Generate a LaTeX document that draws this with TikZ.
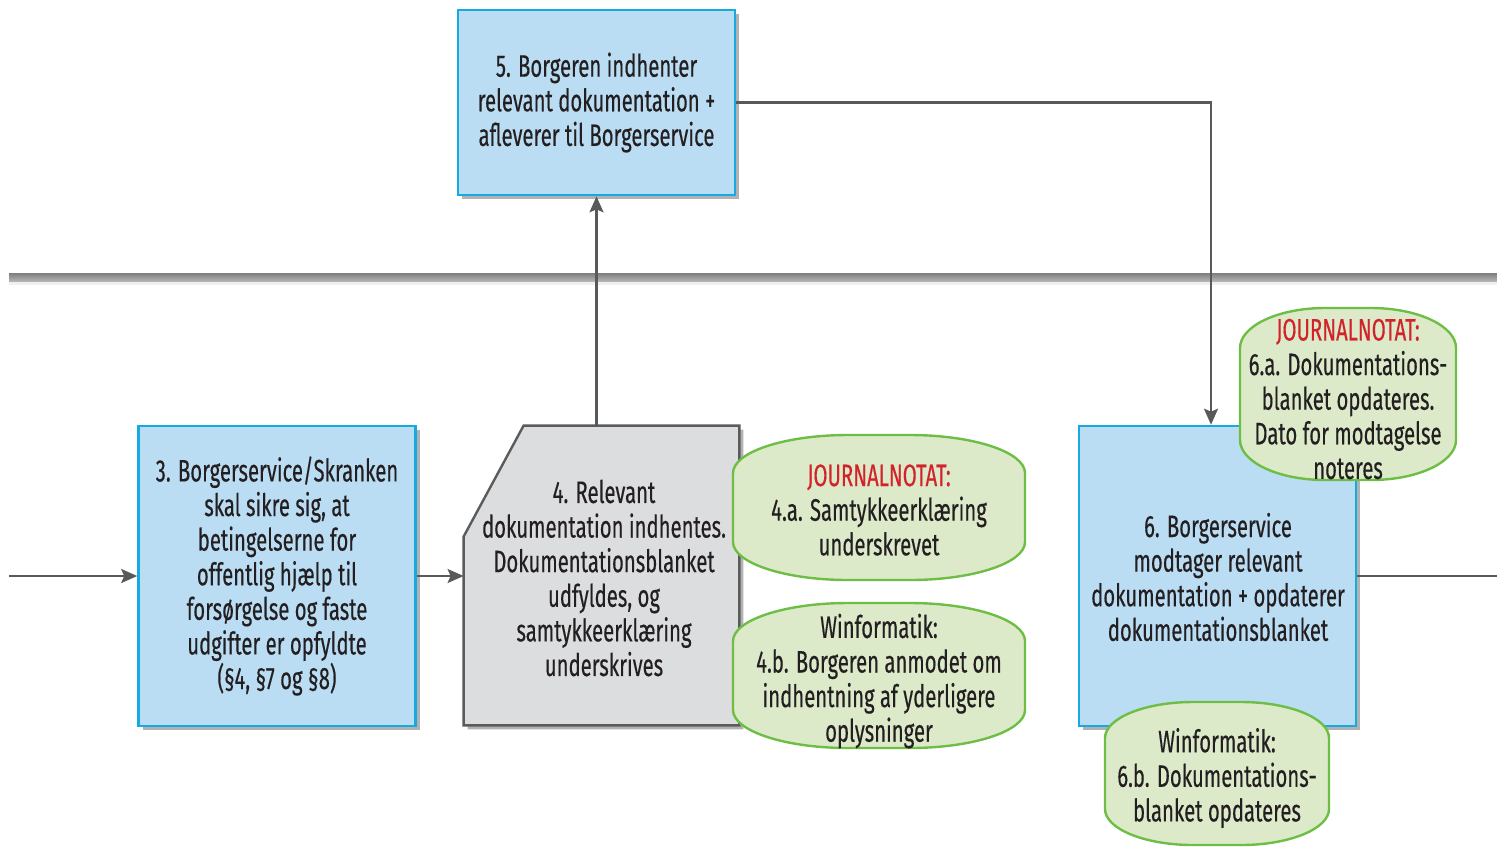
\documentclass[tikz,border=0pt]{standalone}
\usepackage{fontspec}
\setmainfont{Fira Sans}[FakeStretch=0.655, FakeBold=0.35]
\usetikzlibrary{arrows.meta,shadows}
\definecolor{boxblue}{RGB}{186,221,244}
\definecolor{edgeblue}{RGB}{22,170,226}
\definecolor{boxgray}{RGB}{220,221,223}
\definecolor{edgegray}{RGB}{90,91,93}
\definecolor{notegreen}{RGB}{220,234,202}
\definecolor{edgegreen}{RGB}{110,190,70}
\definecolor{notered}{RGB}{210,35,42}
\definecolor{ink}{RGB}{35,31,32}
\definecolor{linegray}{RGB}{88,89,91}
\tikzset{
  txt/.style={align=center, text=ink, inner sep=0pt, font=\fontsize{15.5}{17.3}\selectfont},
  boxshadow/.style={drop shadow={shadow xshift=2pt, shadow yshift=-2pt, opacity=0.3, fill=black}},
  procbox/.style={txt, draw=edgeblue, line width=1.3pt, fill=boxblue, minimum width=138.5pt, minimum height=150pt, boxshadow},
  docbox/.style={fill=boxgray, draw=edgegray, line width=1.2pt, boxshadow},
  notebox/.style={fill=notegreen, draw=edgegreen, line width=1.2pt},
  flow/.style={draw=linegray, line width=1.1pt, -{Stealth[length=8pt, width=7pt, inset=1.5pt]}},
  plain/.style={draw=linegray, line width=1.1pt},
}
% rounded "barrel" outline: left, top, right, bottom, corner height, corner width
\newcommand{\barrel}[6]{%
  \filldraw[notebox] (#1,#2+#5) .. controls (#1,#2+0.45*#5) and (#1+0.45*#6,#2) .. (#1+#6,#2)
    -- (#3-#6,#2) .. controls (#3-0.45*#6,#2) and (#3,#2+0.45*#5) .. (#3,#2+#5)
    -- (#3,#4-#5) .. controls (#3,#4-0.45*#5) and (#3-0.45*#6,#4) .. (#3-#6,#4)
    -- (#1+#6,#4) .. controls (#1+0.45*#6,#4) and (#1,#4-0.45*#5) .. (#1,#4-#5) -- cycle;}
\begin{document}
\begin{tikzpicture}[x=0.5pt, y=-0.5pt]
\useasboundingbox (0,0) rectangle (1497,847);

% lane separator
\fill[black!6] (9,281) rectangle (1497,285);
\shade[top color={rgb,255:red,125;green,125;blue,125}, bottom color={rgb,255:red,180;green,180;blue,180}] (9,273) rectangle (1497,281);

% process steps
\node[procbox] (b5) at (596.5,102.5) [minimum height=92.5pt] {5. Borgeren indhenter\\relevant dokumentation +\\afleverer til Borgerservice};
\node[procbox] (b3) at (277,576) {3. Borgerservice/Skranken\\skal sikre sig, at\\betingelserne for\\offentlig hjælp til\\forsørgelse og faste\\udgifter er opfyldte\\(§4, §7 og §8)};

% document step with clipped corner
\path (601.5,575.5) node[minimum width=137.5pt, minimum height=149.5pt, inner sep=0pt] (b4) {};
\filldraw[docbox] ([xshift=30pt]b4.north west) -- (b4.north east) -- (b4.south east) -- (b4.south west) -- ([yshift=-55.5pt]b4.north west) -- cycle;
\node[txt] (b4t) at (604,578) {4. Relevant\\dokumentation indhentes.\\Dokumentationsblanket\\udfyldes, og\\samtykkeerklæring\\underskrives};

\node[procbox] (b6) at (1217.5,576) {};
\node[txt] (b6t) at (1218,577) {6. Borgerservice\\modtager relevant\\dokumentation + opdaterer\\dokumentationsblanket};

% notes
\barrel{733}{435}{1025}{580}{38}{115}
\node[txt] (n4a) at (879,510) {\textcolor{notered}{JOURNALNOTAT:}\\4.a. Samtykkeerklæring\\underskrevet};
\barrel{733}{603}{1025}{748}{38}{115}
\node[txt] (n4b) at (879,681) {Winformatik:\\4.b. Borgeren anmodet om\\indhentning af yderligere\\oplysninger};
\barrel{1240}{308}{1456}{480}{40}{85}
\node[txt] (n6a) at (1348,399) {\textcolor{notered}{JOURNALNOTAT:}\\6.a. Dokumentations-\\blanket opdateres.\\Dato for modtagelse\\noteres};
\barrel{1105}{702}{1329}{845}{36}{88}
\node[txt] (n6b) at (1217,778) {Winformatik:\\6.b. Dokumentations-\\blanket opdateres};

% connectors
\coordinate (inL) at (9,576);
\coordinate (outR) at (1497,576);
\draw[flow] (inL) -- (b3.west);
\draw[flow] (b3.east) -- (b3.east -| b4.west);
\draw[flow] (b5.south |- b4.north) -- (b5.south);
\draw[flow] (b5.east) -| ([xshift=-3.25pt]b6.north);
\draw[plain] (b6.east) -- (outR);
\end{tikzpicture}
\end{document}
